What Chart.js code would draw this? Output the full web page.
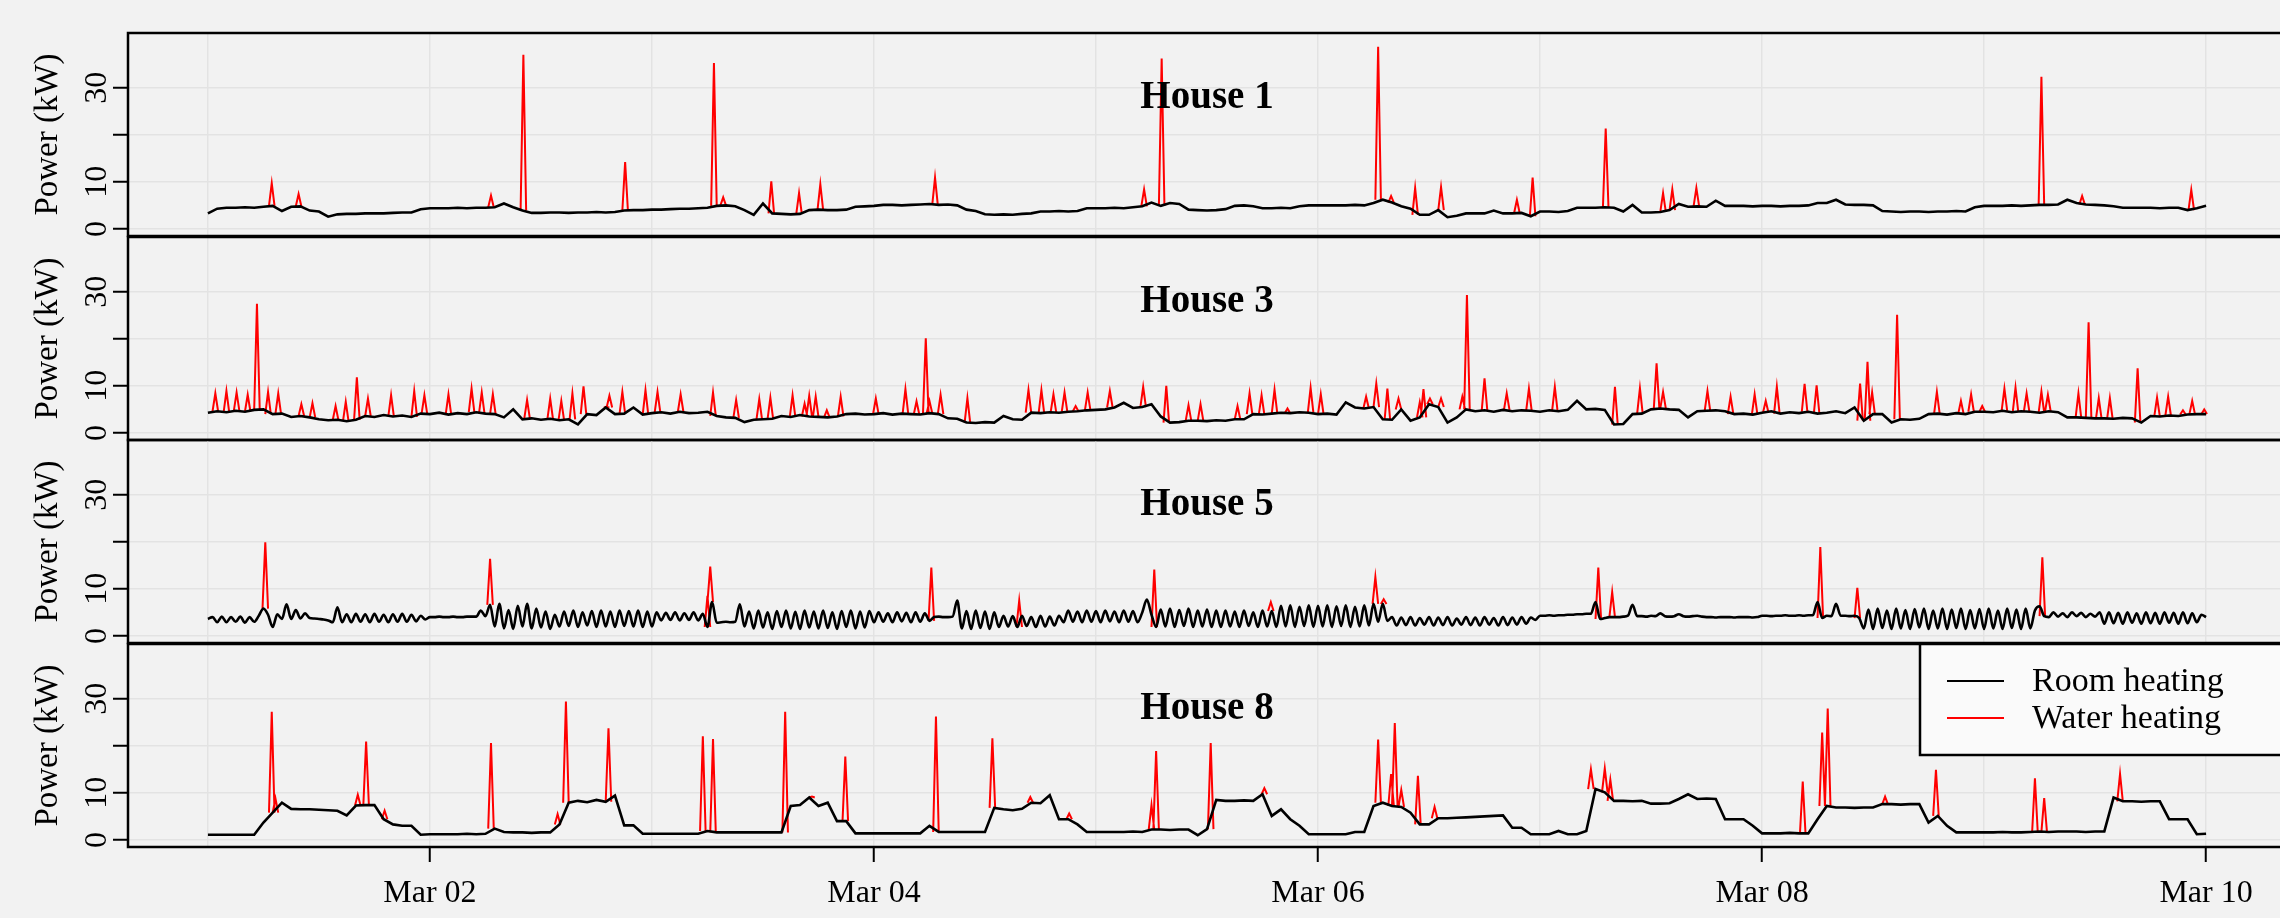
<!DOCTYPE html>
<html>
<head>
<meta charset="utf-8">
<title>Room and water heating power</title>
<script src="https://cdn.jsdelivr.net/npm/chart.js@4.4.1/dist/chart.umd.min.js"></script>
<style>
  html, body { margin: 0; padding: 0; background: #f2f2f2; overflow: hidden; }
  body { width: 2280px; height: 918px; position: relative; }
  canvas { position: absolute; left: 0; }
</style>
</head>
<body>
<canvas id="panel0"></canvas>
<canvas id="panel1"></canvas>
<canvas id="panel2"></canvas>
<canvas id="panel3"></canvas>
<script>
"use strict";

var houseNames = ['House 1', 'House 3', 'House 5', 'House 8'];
var seriesNames = ['Room heating', 'Water heating'];
var dayLabels = ['Mar 01', 'Mar 02', 'Mar 03', 'Mar 04', 'Mar 05', 'Mar 06', 'Mar 07', 'Mar 08', 'Mar 09', 'Mar 10'];
var dayHours = [0, 24, 48, 72, 96, 120, 144, 168, 192, 216];
var yTicks = [0, 10, 20, 30];
var yTickLabels = ['0', '10', '', '30'];

// room heating power (kW), hourly from Mar 01 00:00
var room1 = [
  3.3, 4.3, 4.5, 4.5, 4.6, 4.5, 4.7, 4.9, 3.8, 4.7, 4.8, 3.9, 3.7, 2.6, 3.1, 3.2, 3.2, 3.3, 3.3, 3.3, 3.4, 3.5, 3.5, 4.2,
  4.4, 4.4, 4.4, 4.5, 4.4, 4.5, 4.5, 4.6, 5.4, 4.6, 3.9, 3.4, 3.4, 3.5, 3.5, 3.4, 3.5, 3.5, 3.6, 3.5, 3.6, 3.9, 4.0, 4.0,
  4.1, 4.1, 4.2, 4.3, 4.3, 4.4, 4.5, 4.9, 5.0, 4.8, 4.0, 3.0, 5.4, 3.3, 3.2, 3.1, 3.2, 4.0, 4.1, 4.0, 4.0, 4.1, 4.7, 4.8,
  4.9, 5.1, 5.1, 5.0, 5.1, 5.2, 5.3, 5.1, 5.2, 5.0, 4.1, 3.8, 3.1, 3.0, 3.1, 3.0, 3.2, 3.3, 3.7, 3.7, 3.8, 3.7, 3.8, 4.4,
  4.4, 4.4, 4.5, 4.4, 4.6, 4.8, 5.6, 4.9, 5.5, 5.3, 4.1, 4.0, 3.9, 4.0, 4.2, 4.9, 5.0, 4.8, 4.4, 4.4, 4.5, 4.4, 4.8, 5.0,
  5.0, 5.0, 5.0, 5.0, 5.1, 5.0, 5.5, 6.2, 5.6, 4.8, 4.3, 3.0, 3.0, 4.0, 2.5, 2.8, 3.3, 3.3, 3.3, 3.9, 3.3, 3.3, 3.4, 2.7,
  3.7, 3.7, 3.6, 3.8, 4.5, 4.5, 4.5, 4.6, 4.5, 3.7, 5.1, 3.5, 3.5, 3.6, 4.0, 5.3, 4.7, 4.8, 4.7, 6.0, 4.9, 4.9, 4.9, 4.8,
  4.9, 4.9, 4.8, 4.9, 4.9, 5.0, 5.5, 5.5, 6.2, 5.2, 5.1, 5.1, 5.0, 3.8, 3.7, 3.6, 3.7, 3.7, 3.6, 3.7, 3.7, 3.8, 3.7, 4.6,
  4.9, 4.9, 4.9, 5.0, 4.9, 5.0, 5.1, 5.1, 5.2, 6.2, 5.5, 5.2, 5.1, 5.0, 4.8, 4.5, 4.5, 4.5, 4.5, 4.4, 4.5, 4.5, 4.0, 4.4,
  4.9
];
var room3 = [
  4.3, 4.6, 4.4, 4.7, 4.5, 4.9, 5.0, 4.0, 4.1, 3.4, 3.6, 3.3, 2.9, 2.7, 2.8, 2.5, 2.8, 3.6, 3.4, 3.8, 3.5, 3.7, 3.4, 4.1,
  4.0, 4.3, 3.9, 4.2, 4.0, 4.4, 4.1, 4.0, 3.3, 5.0, 2.9, 3.1, 2.8, 3.0, 2.7, 2.9, 1.8, 4.0, 3.8, 5.4, 4.0, 4.1, 5.4, 3.9,
  4.2, 4.4, 4.1, 4.5, 4.2, 4.3, 4.5, 3.6, 3.3, 3.2, 2.3, 2.8, 2.9, 3.0, 3.6, 3.4, 3.8, 3.5, 3.4, 3.3, 3.5, 4.0, 4.1, 3.9,
  4.0, 4.2, 3.9, 4.1, 4.0, 3.9, 4.2, 4.0, 3.1, 3.0, 2.2, 2.1, 2.3, 2.2, 3.6, 2.9, 2.8, 4.3, 4.2, 4.4, 4.3, 4.5, 4.6, 4.8,
  4.9, 5.0, 5.4, 6.4, 5.3, 5.5, 6.1, 3.5, 2.2, 2.3, 2.6, 2.6, 2.5, 2.7, 2.6, 2.9, 2.9, 4.0, 3.9, 4.1, 4.3, 4.2, 4.4, 4.3,
  4.0, 4.1, 3.9, 6.5, 5.4, 5.2, 5.5, 2.9, 2.8, 5.0, 2.6, 3.3, 6.1, 5.5, 2.2, 3.3, 5.0, 4.6, 4.8, 4.5, 4.9, 4.6, 4.8, 4.7,
  4.5, 4.8, 4.6, 4.9, 6.8, 5.0, 5.1, 4.9, 1.8, 1.9, 4.0, 4.1, 5.0, 5.2, 5.0, 4.9, 3.3, 4.6, 4.7, 4.8, 4.6, 4.0, 4.1, 3.9,
  4.3, 4.6, 4.1, 4.4, 4.2, 4.5, 4.1, 4.3, 4.6, 4.2, 5.4, 2.6, 4.0, 4.0, 2.2, 2.9, 2.8, 3.0, 4.0, 4.1, 3.9, 4.2, 4.0, 4.5,
  4.5, 4.4, 4.7, 4.4, 4.6, 4.5, 4.3, 4.6, 4.4, 3.3, 3.3, 3.2, 3.1, 3.1, 3.0, 3.2, 3.1, 2.2, 3.6, 3.5, 3.7, 3.6, 3.9, 4.0,
  4.0
];
// house 5 cycles quickly, so it is read every half hour
var room5 = [
  3.6, 4.0, 2.9, 4.1, 2.9, 4.0, 3.0, 4.1, 2.8, 4.0, 3.0, 4.3, 5.8, 4.5, 1.9, 4.6, 3.6, 6.7, 3.6, 5.5, 3.7, 4.8, 3.8, 3.7,
  3.6, 3.5, 3.3, 2.9, 6.1, 2.9, 4.6, 2.9, 4.7, 3.0, 4.6, 2.9, 4.7, 3.0, 4.5, 2.9, 4.6, 3.0, 4.7, 3.0, 4.5, 3.1, 4.3, 3.5,
  4.0, 4.0, 4.1, 4.0, 4.0, 4.1, 4.0, 4.0, 4.1, 4.1, 4.1, 5.4, 4.2, 6.6, 2.0, 6.8, 1.6, 5.5, 1.5, 6.4, 2.0, 6.8, 1.6, 5.8,
  1.8, 5.2, 1.5, 4.5, 2.0, 5.2, 2.1, 5.4, 1.9, 5.0, 2.2, 5.3, 1.9, 5.4, 2.0, 5.2, 1.9, 5.4, 2.1, 5.3, 2.0, 5.4, 1.9, 5.2,
  2.0, 5.0, 3.3, 4.9, 3.4, 5.0, 3.3, 4.8, 3.4, 5.0, 3.3, 4.7, 1.9, 7.2, 2.8, 2.9, 3.0, 2.9, 3.0, 6.7, 2.0, 5.2, 1.6, 5.4,
  1.8, 5.0, 1.5, 5.3, 1.9, 5.4, 1.6, 5.1, 1.5, 5.4, 1.8, 5.2, 1.6, 5.4, 1.7, 5.0, 1.5, 5.3, 1.9, 5.4, 1.6, 5.2, 1.8, 5.3,
  2.9, 5.0, 3.0, 4.8, 2.9, 5.0, 3.1, 4.9, 2.9, 5.0, 3.0, 4.8, 3.2, 4.0, 4.1, 4.0, 4.0, 4.1, 7.5, 1.6, 5.3, 1.5, 5.4, 1.7,
  5.2, 1.5, 5.0, 1.9, 4.3, 2.0, 4.2, 1.9, 4.3, 2.1, 4.0, 1.9, 4.3, 2.0, 4.1, 2.2, 4.3, 2.9, 5.4, 3.0, 5.2, 2.9, 5.4, 3.0,
  5.3, 2.9, 5.4, 3.1, 5.2, 2.9, 5.4, 3.0, 5.3, 2.9, 5.0, 7.7, 4.5, 1.9, 5.6, 2.0, 5.8, 1.9, 5.5, 2.1, 5.8, 1.9, 5.4, 2.0,
  5.6, 1.9, 5.4, 1.9, 5.4, 2.0, 5.2, 1.9, 5.4, 2.1, 5.0, 1.9, 5.4, 2.0, 5.3, 1.9, 6.4, 2.0, 6.5, 1.9, 6.2, 2.1, 6.5, 1.9,
  6.4, 2.0, 6.5, 1.9, 6.3, 2.1, 6.5, 1.9, 6.2, 2.0, 6.5, 2.2, 6.8, 3.0, 6.8, 3.2, 4.0, 2.2, 3.9, 2.3, 4.0, 2.2, 3.8, 2.4,
  4.0, 2.2, 3.9, 2.3, 4.0, 2.2, 3.7, 2.4, 4.0, 2.3, 3.9, 2.2, 4.0, 2.4, 3.8, 2.2, 4.0, 2.3, 3.9, 2.4, 4.0, 2.6, 3.9, 3.4,
  4.3, 4.3, 4.4, 4.3, 4.4, 4.4, 4.5, 4.5, 4.6, 4.6, 4.7, 4.7, 7.2, 3.6, 3.8, 4.0, 4.0, 4.0, 4.1, 4.3, 6.6, 4.2, 4.2, 4.1,
  4.3, 4.2, 4.8, 4.2, 4.1, 4.2, 4.6, 4.2, 4.1, 4.2, 4.3, 4.1, 4.0, 4.0, 3.9, 4.0, 4.0, 4.0, 3.9, 4.0, 4.0, 4.0, 3.9, 4.0,
  4.3, 4.3, 4.2, 4.3, 4.3, 4.4, 4.3, 4.3, 4.4, 4.3, 4.4, 4.4, 7.2, 3.8, 4.3, 4.2, 6.8, 4.3, 4.3, 4.2, 4.3, 3.8, 1.6, 5.6,
  1.5, 5.8, 1.7, 5.4, 1.5, 5.8, 1.6, 5.5, 1.5, 5.7, 1.8, 5.8, 1.5, 5.4, 1.6, 5.8, 1.5, 5.6, 1.7, 5.8, 1.5, 5.5, 1.6, 5.7,
  1.5, 5.8, 1.6, 5.4, 1.5, 5.8, 1.7, 5.6, 1.5, 5.8, 1.6, 5.4, 6.3, 4.2, 4.0, 5.0, 4.1, 4.8, 4.0, 5.0, 4.2, 4.9, 4.0, 4.7,
  4.1, 5.0, 2.6, 5.0, 2.7, 4.9, 2.6, 5.0, 2.8, 4.8, 2.6, 5.0, 2.7, 4.9, 2.6, 5.0, 2.8, 4.9, 2.6, 5.0, 2.7, 4.8, 2.9, 4.5,
  4.0
];
var room8 = [
  1.1, 1.1, 1.1, 1.1, 1.1, 1.1, 3.7, 5.8, 7.9, 6.6, 6.5, 6.5, 6.4, 6.3, 6.2, 5.2, 7.3, 7.4, 7.4, 4.4, 3.3, 3.0, 3.0, 1.1,
  1.2, 1.2, 1.2, 1.2, 1.3, 1.2, 1.3, 2.4, 1.7, 1.6, 1.6, 1.5, 1.6, 1.6, 3.3, 7.9, 8.3, 8.0, 8.5, 8.1, 9.4, 3.1, 3.1, 1.3,
  1.3, 1.3, 1.3, 1.3, 1.3, 1.3, 1.9, 1.6, 1.6, 1.6, 1.6, 1.6, 1.6, 1.6, 1.6, 7.2, 7.4, 9.0, 7.2, 7.9, 4.0, 4.0, 1.4, 1.4,
  1.4, 1.4, 1.4, 1.4, 1.4, 1.4, 3.0, 1.7, 1.7, 1.7, 1.7, 1.7, 1.7, 6.8, 6.5, 6.3, 6.6, 7.9, 7.8, 9.5, 4.4, 4.4, 3.3, 1.7,
  1.7, 1.7, 1.7, 1.7, 1.8, 1.7, 2.2, 2.2, 2.1, 2.2, 2.2, 1.0, 2.3, 8.5, 8.3, 8.3, 8.4, 8.3, 9.7, 5.1, 6.5, 4.4, 3.0, 1.2,
  1.2, 1.2, 1.2, 1.2, 1.7, 1.7, 7.2, 7.9, 7.2, 7.0, 5.8, 3.3, 3.3, 4.6, 4.6, 4.7, 4.8, 4.9, 5.0, 5.1, 5.2, 2.6, 2.6, 1.2,
  1.2, 1.2, 1.9, 1.2, 1.2, 1.9, 10.8, 10.1, 8.3, 8.3, 8.2, 8.3, 7.7, 7.7, 7.8, 8.7, 9.7, 8.7, 8.8, 8.7, 4.4, 4.4, 4.4, 3.0,
  1.4, 1.4, 1.4, 1.5, 1.4, 1.4, 4.4, 7.2, 6.9, 6.9, 6.8, 6.9, 6.9, 7.6, 7.6, 7.5, 7.6, 7.6, 3.7, 5.1, 3.0, 1.6, 1.6, 1.6,
  1.6, 1.6, 1.7, 1.6, 1.6, 1.7, 1.8, 1.7, 1.8, 1.8, 1.8, 1.7, 1.8, 1.8, 9.0, 8.2, 8.2, 8.1, 8.2, 8.2, 4.4, 4.4, 4.4, 1.2,
  1.3
];
var roomStepHours = [1, 1, 0.5, 1];

// water heating: hour of each draw peak and its total power (kW)
var water1Hours = [6.9, 9.8, 30.6, 34.1, 45.1, 54.7, 55.7, 60.9, 63.9, 66.2, 78.6, 101.2, 103.1, 126.5, 127.9,
  130.5, 133.3, 141.5, 143.2, 151.1, 157.3, 158.3, 160.9, 198.2, 202.6, 214.4];
var water1Peaks = [9.7, 7.4, 7.1, 37.0, 14.2, 35.2, 6.7, 10.1, 7.6, 9.5, 10.9, 8.4, 36.2, 38.7, 7.0,
  8.7, 8.9, 6.2, 10.9, 21.3, 7.6, 8.4, 8.7, 32.3, 7.0, 8.3];

var water3Hours = [0.8, 2.0, 3.1, 4.3, 5.3, 6.5, 7.6, 10.1, 11.3, 13.8, 14.9, 16.1, 17.3, 19.8, 22.3, 23.4, 26.0,
  28.5, 29.6, 30.8, 34.5, 37.0, 38.2, 39.4, 40.6, 43.1, 43.4, 44.8, 47.3, 48.6, 51.1, 54.6, 57.1, 59.6, 60.8,
  63.2, 64.5, 65.0, 65.7, 66.9, 68.4, 72.2, 75.4, 76.6, 77.6, 78.0, 79.2, 82.1, 88.7, 90.1, 91.4, 92.6, 93.8,
  95.1, 97.5, 101.1, 103.6, 106.0, 107.3, 111.3, 112.6, 113.9, 115.3, 116.7, 119.2, 120.3, 125.2, 126.3, 127.5,
  128.7, 131.0, 131.4, 132.1, 133.3, 135.6, 136.1, 138.0, 140.4, 142.8, 145.6, 152.1, 154.8, 156.6, 157.3,
  162.1, 164.6, 167.2, 168.4, 169.6, 172.6, 173.9, 178.6, 179.4, 179.9, 182.6, 186.9, 189.5, 190.6, 191.8,
  194.2, 195.4, 196.6, 198.2, 198.9, 202.2, 203.3, 204.4, 205.6, 208.6, 210.7, 211.9, 213.5, 214.5, 215.8];
var water3Peaks = [8.4, 8.9, 8.6, 8.1, 27.4, 8.7, 8.4, 6.1, 6.3, 5.7, 6.6, 11.8, 7.3, 8.0, 8.9, 8.0, 8.2,
  9.4, 8.6, 8.2, 7.0, 7.3, 6.8, 8.4, 9.9, 5.5, 7.9, 8.7, 9.1, 8.7, 8.2, 8.6, 7.0, 7.2, 7.5,
  8.0, 6.2, 7.9, 7.7, 4.8, 7.7, 7.3, 9.3, 6.7, 20.1, 6.8, 8.1, 7.4, 9.1, 9.1, 8.2, 8.6, 5.7,
  8.6, 8.9, 9.8, 10.0, 5.9, 6.1, 5.7, 8.4, 8.0, 9.2, 5.2, 9.6, 8.2, 7.7, 10.5, 9.4,
  7.3, 6.5, 9.3, 7.3, 7.3, 7.7, 29.3, 11.6, 8.4, 9.4, 9.8, 9.8, 9.5, 14.8, 8.7,
  8.9, 7.7, 8.2, 6.8, 9.8, 10.4, 10.1, 10.5, 15.1, 8.6, 25.1, 8.7, 6.8, 8.2, 5.7,
  9.4, 9.6, 8.4, 8.8, 8.1, 8.4, 23.5, 7.4, 7.4, 13.7, 7.5, 7.7, 4.8, 6.8, 5.0];

var water5Hours = [6.2, 30.5, 54.0, 54.3, 78.2, 87.7, 102.3, 114.9, 126.2, 127.1, 150.3, 151.8, 174.3, 178.3, 198.3];
var water5Peaks = [19.9, 16.4, 8.5, 14.7, 14.5, 7.5, 14.1, 7.2, 12.5, 7.8, 14.5, 9.3, 18.9, 10.2, 16.7];

var water8Hours = [6.9, 7.3, 16.2, 17.1, 19.1, 30.6, 37.8, 38.7, 43.3, 53.5, 54.6, 62.4, 65.3, 68.9, 78.7, 84.8,
  88.9, 93.1, 102.0, 102.5, 108.4, 114.2, 126.5, 127.9, 128.3, 129.0, 130.8, 132.6, 149.5, 151.0, 151.6,
  172.4, 174.5, 175.1, 181.3, 186.8, 197.5, 198.5, 206.7];
var water8Peaks = [27.2, 8.8, 9.6, 20.9, 6.2, 20.6, 5.5, 29.4, 23.7, 22.0, 21.4, 27.2, 9.2, 17.7, 26.2, 21.6,
  9.1, 5.6, 7.4, 18.9, 20.6, 11.0, 21.3, 14.0, 24.8, 10.6, 13.6, 7.0, 15.0, 15.2, 12.8,
  12.4, 22.8, 27.9, 9.2, 14.9, 13.1, 8.9, 14.0];

var roomSeries = [room1, room3, room5, room8];
var waterHours = [water1Hours, water3Hours, water5Hours, water8Hours];
var waterPeaks = [water1Peaks, water3Peaks, water5Peaks, water8Peaks];

var FONT = "'Liberation Serif', 'DejaVu Serif', serif";
var PLOT_LEFT = 128;
var PLOT_HEIGHT = 203;
var PANEL_TOPS = [33, 237, 440, 644];
var PAD = 6;

function roomPoints(values, step) {
    return values.map(function (v, i) {
        return { x: i * step, y: v };
    });
}

// each water draw is a narrow peak rising off the room heating line
function waterPoints(hours, peaks, values, step) {
    var pts = [];
    hours.forEach(function (h, i) {
        var base = values[Math.min(values.length - 1, Math.round(h / step))];
        pts.push({ x: h - 0.3, y: base });
        pts.push({ x: h, y: peaks[i] });
        pts.push({ x: h + 0.3, y: base });
        pts.push({ x: h + 0.31, y: null });
    });
    return pts;
}

var panelDecor = {
    id: 'panelDecor',
    afterDraw: function (chart, args, opts) {
        var ctx = chart.ctx;
        var area = chart.chartArea;
        var yScale = chart.scales.y;
        ctx.save();

        // box round the panel
        ctx.strokeStyle = '#000';
        ctx.lineWidth = 2.5;
        ctx.beginPath();
        ctx.moveTo(chart.width, area.top);
        ctx.lineTo(area.left, area.top);
        ctx.lineTo(area.left, area.bottom);
        ctx.lineTo(chart.width, area.bottom);
        ctx.stroke();

        ctx.fillStyle = '#000';
        ctx.textAlign = 'center';
        ctx.textBaseline = 'middle';

        // rotated y tick labels
        ctx.font = '32px ' + FONT;
        yTicks.forEach(function (v, i) {
            if (!yTickLabels[i]) return;
            ctx.save();
            ctx.translate(98, yScale.getPixelForValue(v));
            ctx.rotate(-Math.PI / 2);
            ctx.fillText(yTickLabels[i], 0, 0);
            ctx.restore();
        });

        // y axis title
        ctx.font = '33px ' + FONT;
        ctx.save();
        ctx.translate(48, (area.top + area.bottom) / 2);
        ctx.rotate(-Math.PI / 2);
        ctx.fillText('Power (kW)', 0, 0);
        ctx.restore();

        // panel title
        ctx.font = 'bold 39px ' + FONT;
        ctx.textBaseline = 'alphabetic';
        ctx.fillText(opts.title, (area.left + area.right) / 2, area.top + 75);

        if (opts.legend) {
            var bx = 1920, by = area.top, bh = 111;
            ctx.fillStyle = '#fafafa';
            ctx.fillRect(bx, by, chart.width - bx + 10, bh);
            ctx.lineWidth = 2.5;
            ctx.strokeStyle = '#000';
            ctx.strokeRect(bx, by, chart.width - bx + 10, bh);
            var colours = ['#000000', '#ff0000'];
            ctx.font = '34px ' + FONT;
            ctx.textAlign = 'left';
            seriesNames.forEach(function (name, i) {
                var ly = by + 37 + i * 37;
                ctx.strokeStyle = colours[i];
                ctx.lineWidth = 2;
                ctx.beginPath();
                ctx.moveTo(1947, ly);
                ctx.lineTo(2004, ly);
                ctx.stroke();
                ctx.fillStyle = '#000';
                ctx.fillText(name, 2032, ly + 10);
            });
        }
        ctx.restore();
    }
};

function makePanel(i) {
    var last = i === 3;
    var canvas = document.getElementById('panel' + i);
    var height = last ? 918 - (PANEL_TOPS[i] - PAD) : PLOT_HEIGHT + 2 * PAD;
    canvas.width = 2290;
    canvas.height = height;
    canvas.style.top = (PANEL_TOPS[i] - PAD) + 'px';
    canvas.style.width = '2290px';
    canvas.style.height = height + 'px';

    var room = roomSeries[i];
    var step = roomStepHours[i];

    return new Chart(canvas, {
        type: 'line',
        data: {
            datasets: [{
                label: seriesNames[0],
                data: roomPoints(room, step),
                borderColor: '#000000',
                borderWidth: 2.6,
                pointRadius: 0,
                cubicInterpolationMode: step < 1 ? 'monotone' : 'default',
                tension: 0
            }, {
                label: seriesNames[1],
                data: waterPoints(waterHours[i], waterPeaks[i], room, step),
                borderColor: '#ff0000',
                borderWidth: 2,
                pointRadius: 0,
                tension: 0,
                spanGaps: false
            }]
        },
        options: {
            responsive: false,
            maintainAspectRatio: false,
            devicePixelRatio: 1,
            animation: false,
            layout: { padding: { left: 0, right: 4, top: PAD, bottom: last ? 0 : PAD } },
            plugins: {
                legend: { display: false },
                tooltip: { enabled: false },
                panelDecor: { title: houseNames[i], legend: last }
            },
            scales: {
                x: {
                    type: 'linear',
                    min: -8.64,
                    max: 224.64,
                    bounds: 'data',
                    afterFit: function (scale) { scale.height = last ? 918 - PANEL_TOPS[3] - PLOT_HEIGHT : 0; },
                    afterBuildTicks: function (scale) {
                        scale.ticks = dayHours.map(function (h) { return { value: h }; });
                    },
                    border: { display: false },
                    grid: {
                        color: '#e3e3e3',
                        lineWidth: 1.5,
                        drawTicks: last,
                        tickLength: 15,
                        tickWidth: 2,
                        tickColor: function (c) {
                            return c.tick && (c.tick.value / 24) % 2 === 1 ? '#000000' : 'rgba(0,0,0,0)';
                        }
                    },
                    ticks: {
                        display: last,
                        autoSkip: false,
                        maxRotation: 0,
                        padding: 12,
                        color: '#000',
                        font: { family: FONT, size: 32 },
                        callback: function (value) {
                            var d = Math.round(value / 24);
                            return d % 2 === 1 ? dayLabels[d] : '';
                        }
                    }
                },
                y: {
                    type: 'linear',
                    min: -1.5,
                    max: 41.6,
                    bounds: 'data',
                    afterFit: function (scale) { scale.width = PLOT_LEFT; },
                    afterBuildTicks: function (scale) {
                        scale.ticks = yTicks.map(function (v) { return { value: v }; });
                    },
                    border: { display: false },
                    grid: {
                        color: '#e3e3e3',
                        lineWidth: 1.5,
                        drawTicks: true,
                        tickLength: 15,
                        tickWidth: 2,
                        tickColor: '#000000'
                    },
                    ticks: { display: false }
                }
            }
        },
        plugins: [panelDecor]
    });
}

[0, 1, 2, 3].forEach(makePanel);
</script>
</body>
</html>
